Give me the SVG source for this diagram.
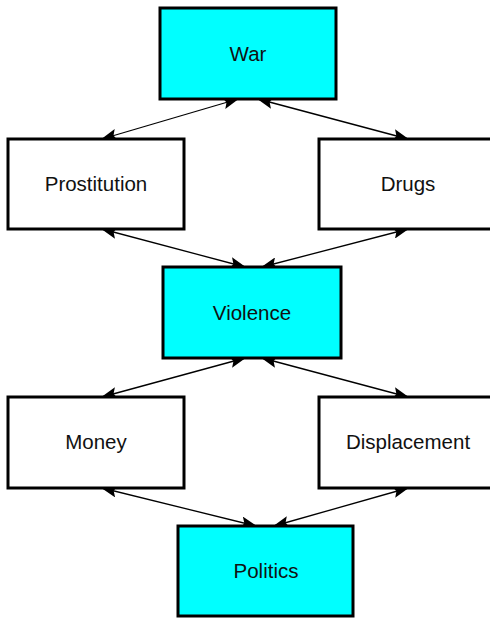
<svg xmlns="http://www.w3.org/2000/svg" width="490" height="618" viewBox="0 0 490 618">
  <style>
    .box { stroke: #000; stroke-width: 3; }
    .hub { fill: #00ffff; }
    .leaf { fill: #ffffff; }
    .label { font-family: "Liberation Sans", Arial, sans-serif; font-size: 20.5px; fill: #111; text-anchor: middle; }
    .link { stroke: #000; stroke-width: 1.3; fill: none; marker-start: url(#head); marker-end: url(#head); }
  </style>
  <defs>
    <marker id="head" viewBox="0 0 16 12" refX="15" refY="6" markerWidth="16" markerHeight="12" markerUnits="userSpaceOnUse" orient="auto-start-reverse">
      <path d="M0,0 L16,6 L0,12 L3,6 z" fill="#000"/>
    </marker>
  </defs>
  <rect width="490" height="618" fill="#fff"/>

  <g id="connectors">
    <line class="link" x1="238" y1="99" x2="102" y2="139"/>
    <line class="link" x1="258" y1="99" x2="408" y2="139"/>
    <line class="link" x1="102" y1="229" x2="245" y2="267"/>
    <line class="link" x1="408" y1="229" x2="262" y2="267"/>
    <line class="link" x1="245" y1="358" x2="102" y2="397"/>
    <line class="link" x1="262" y1="358" x2="408" y2="397"/>
    <line class="link" x1="102" y1="488" x2="256" y2="526"/>
    <line class="link" x1="408" y1="488" x2="274" y2="526"/>
  </g>

  <g id="war">
    <rect class="box hub" x="160" y="8" width="176" height="91"/>
    <text class="label" x="248" y="61">War</text>
  </g>
  <g id="prostitution">
    <rect class="box leaf" x="8" y="139" width="176" height="90"/>
    <text class="label" x="96" y="191">Prostitution</text>
  </g>
  <g id="drugs">
    <rect class="box leaf" x="319" y="139" width="178" height="90"/>
    <text class="label" x="408" y="191">Drugs</text>
  </g>
  <g id="violence">
    <rect class="box hub" x="163" y="267" width="178" height="91"/>
    <text class="label" x="252" y="320">Violence</text>
  </g>
  <g id="money">
    <rect class="box leaf" x="8" y="397" width="176" height="91"/>
    <text class="label" x="96" y="449">Money</text>
  </g>
  <g id="displacement">
    <rect class="box leaf" x="319" y="397" width="178" height="91"/>
    <text class="label" x="408" y="449">Displacement</text>
  </g>
  <g id="politics">
    <rect class="box hub" x="178" y="526" width="175" height="90"/>
    <text class="label" x="266" y="578">Politics</text>
  </g>
</svg>
